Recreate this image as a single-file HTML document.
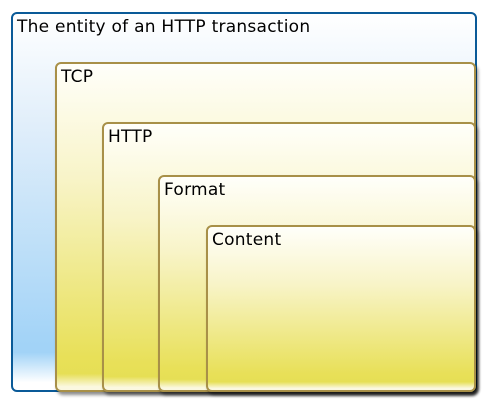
<!DOCTYPE html>
<html><head><meta charset="utf-8"><style>
html,body{margin:0;padding:0;background:#fff;width:489px;height:406px;overflow:hidden}
.b{position:absolute;box-sizing:border-box;border-radius:6px;font-family:"DejaVu Sans","Liberation Sans",sans-serif;font-size:17px;letter-spacing:0.25px;color:#000}
.b span{position:absolute;left:4px;top:3px;white-space:nowrap}
.o{left:11px;top:12px;width:466px;height:380px;border:2px solid #0a5a98;
background:linear-gradient(to bottom,#ffffff 0%,#e0eefa 30%,#a2d3f7 88%,#a2d3f7 90%,#ffffff 98%);}
.y{border:2px solid #a89048;box-shadow:2px 3px 3px rgba(0,0,0,0.45);
background:linear-gradient(to bottom,#fffffa 0%,#f8f4c8 35%,#e8e058 90%,#e6df55 95%,#fbf8e0 99%);}
</style></head><body>
<div class="b o"><span>The entity of an HTTP transaction</span></div>
<div class="b y" style="left:55px;top:62px;width:421px;height:330px"><span>TCP</span></div>
<div class="b y" style="left:102px;top:122px;width:374px;height:270px"><span>HTTP</span></div>
<div class="b y" style="left:158px;top:175px;width:318px;height:217px"><span>Format</span></div>
<div class="b y" style="left:206px;top:225px;width:270px;height:167px"><span>Content</span></div>
</body></html>
